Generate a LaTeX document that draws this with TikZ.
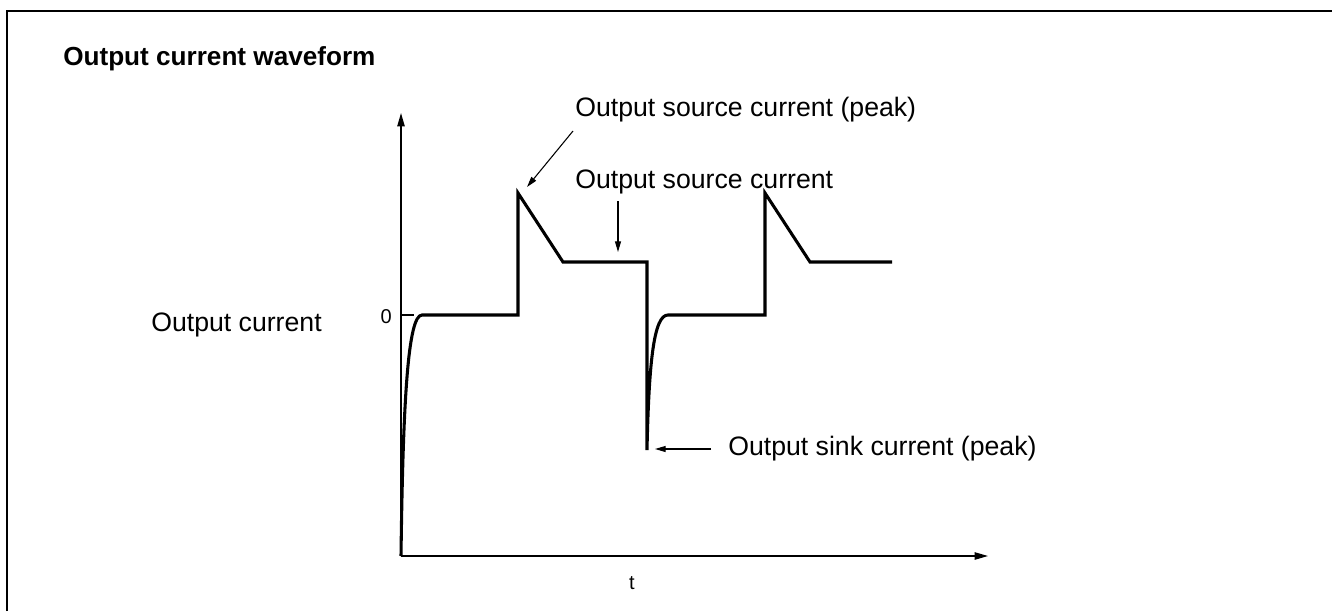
\documentclass[tikz,border=0pt]{standalone}
\usepackage{fontspec}
\setmainfont{Liberation Sans}
\usetikzlibrary{arrows.meta}

\begin{document}
\begin{tikzpicture}[x=0.75pt, y=-0.75pt, line join=miter]
    \tikzset{%
      axis_line/.style  = {line width=1pt, -{Triangle[length=10pt,width=5.5pt]}},
      wave_line/.style  = {line width=2.3pt},
      pointer/.style    = {line width=0.8pt, -{Triangle[length=8pt,width=4.5pt]}},
      label_text/.style = {font=\fontsize{20}{24}\selectfont, inner sep=0pt},
      tick_text/.style  = {font=\fontsize{15}{18}\selectfont, inner sep=0pt}
    }
    \useasboundingbox (0,0) rectangle (1332,611);
    \draw[line width=1.5pt] (7,611) -- (7,11) -- (1332,11); % open frame

    % axes
    \coordinate (origin) at (401,556);
    \coordinate (ytop)   at (401,113);
    \coordinate (xend)   at (988,556);
    \coordinate (zero)   at (401,315);
    \coordinate (ztick)  at (414,315);
    \draw[axis_line] (origin) -- (ytop);
    \draw[axis_line] (origin) -- (xend);
    \draw[line width=0.8pt] (zero) -- (ztick);

    % waveform corners
    \coordinate (rise1) at (518,315);
    \coordinate (peak1) at (518,193);
    \coordinate (knee1) at (563,262);
    \coordinate (fall1) at (647,262);
    \coordinate (sink)  at (647,450);
    \coordinate (rise2) at (765,315);
    \coordinate (peak2) at (765,193);
    \coordinate (knee2) at (810,262);
    \coordinate (stop)  at (892,262);
    \draw[wave_line]
      (origin) .. controls (403,400) and (408,315) .. (422,315) --
      (rise1) -- (peak1) -- (knee1) -- (fall1) -- (sink)
               .. controls (649,360) and (654,315) .. (668,315) --
      (rise2) -- (peak2) -- (knee2) -- (stop);

    % texts
    \node[label_text, font={\fontsize{19.6}{24}\selectfont\bfseries}, anchor=base west]
      (title) at (63,65) {Output current waveform};
    \node[label_text, anchor=base west] (ylabel) at (151,331) {Output current};
    \node[tick_text, anchor=base east] (zlabel) at (392,323) {0};
    \node[tick_text, anchor=base] (tlabel) at (632,589) {t};
    \node[label_text, anchor=base west] (srcpk) at (575,116) {Output source current (peak)};
    \node[label_text, anchor=base west] (src) at (575,188) {Output source current};
    \node[label_text, anchor=base west] (snkpk) at (728,455) {Output sink current (peak)};

    % pointers
    \coordinate (srcpk_tail) at (573,131);
    \coordinate (srcpk_tip)  at (527,187);
    \coordinate (src_tail)   at (618,201);
    \coordinate (src_tip)    at (618,252);
    \coordinate (snkpk_tail) at (711,449);
    \coordinate (snkpk_tip)  at (655,449);
    \draw[pointer] (srcpk_tail) -- (srcpk_tip);
    \draw[pointer] (src_tail) -- (src_tip);
    \draw[pointer] (snkpk_tail) -- (snkpk_tip);
\end{tikzpicture}
\end{document}
